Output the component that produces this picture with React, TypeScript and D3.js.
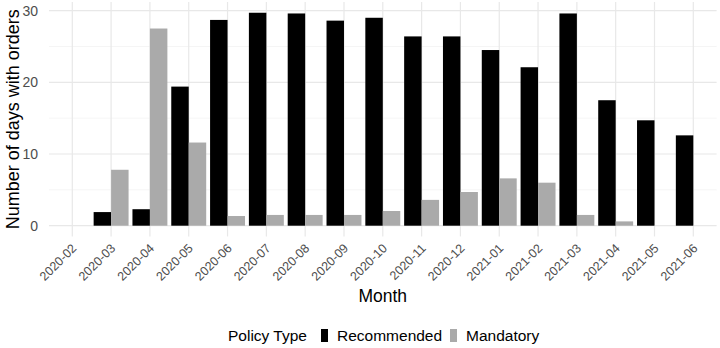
import React from "react";
import * as d3 from "d3";

const months = [
  "2020-02", "2020-03", "2020-04", "2020-05", "2020-06", "2020-07",
  "2020-08", "2020-09", "2020-10", "2020-11", "2020-12", "2021-01",
  "2021-02", "2021-03", "2021-04", "2021-05", "2021-06",
];
const recommended = [
  0, 1.9, 2.3, 19.4, 28.7, 29.7, 29.6, 28.6, 29.0, 26.4, 26.4, 24.5,
  22.1, 29.6, 17.5, 14.7, 12.6,
];
const mandatory = [
  0, 7.8, 27.5, 11.6, 1.35, 1.5, 1.5, 1.5, 2.05, 3.6, 4.7, 6.6,
  6.0, 1.5, 0.6, 0, 0,
];
const policyTypes = ["Recommended", "Mandatory"];
const yTicks = [0, 10, 20, 30];
const yMinor = [5, 15, 25];

const width = 720;
const height = 348;
const font = "'Liberation Sans', Arial, sans-serif";
const colors: Record<string, string> = { Recommended: "#000000", Mandatory: "#aaaaaa" };

const App = () => {
  const rows = months.map((m, i) => ({
    month: m,
    Recommended: recommended[i],
    Mandatory: mandatory[i],
  }));

  const panelLeft = 49;
  const panelRight = 716.6;

  const x = d3
    .scaleBand()
    .domain(months)
    .range([panelLeft, panelRight])
    .paddingInner(0.1)
    .paddingOuter(0.15);

  const xSub = d3.scaleBand().domain(policyTypes).range([0, x.bandwidth()]);

  const y = d3.scaleLinear().domain([0, 30]).range([225.7, 10.6]);
  const panelTop = y(31.2);
  const panelBottom = y(-1.5);

  const tickX = (m: string) => (x(m) ?? 0) + x.bandwidth() / 2;

  return (
    <div style={{ position: "fixed", left: 0, top: 0 }}>
      <svg width={width} height={height} style={{ display: "block", background: "#fff" }}>
        {/* grid */}
        {yMinor.map((t) => (
          <line key={"mn" + t} x1={panelLeft} x2={panelRight} y1={y(t)} y2={y(t)}
            stroke="#f2f2f2" strokeWidth={0.8} />
        ))}
        {yTicks.map((t) => (
          <line key={"mj" + t} x1={panelLeft} x2={panelRight} y1={y(t)} y2={y(t)}
            stroke="#e8e8e8" strokeWidth={1.2} />
        ))}
        {months.map((m) => (
          <line key={"vg" + m} x1={tickX(m)} x2={tickX(m)} y1={panelTop} y2={panelBottom}
            stroke="#e8e8e8" strokeWidth={1.2} />
        ))}

        {/* bars */}
        {rows.map((r) =>
          policyTypes.map((p) => {
            const v = (r as any)[p] as number;
            return (
              <rect
                key={r.month + p}
                x={(x(r.month) ?? 0) + (xSub(p) ?? 0)}
                y={y(v)}
                width={xSub.bandwidth()}
                height={y(0) - y(v)}
                fill={colors[p]}
              />
            );
          })
        )}

        {/* y axis labels */}
        {yTicks.map((t) => (
          <text key={"yl" + t} x={38} y={y(t)} dy="0.35em" textAnchor="end"
            fontFamily={font} fontSize={14} fill="#4d4d4d">
            {t}
          </text>
        ))}
        <text
          transform={`translate(19,${(panelTop + panelBottom) / 2}) rotate(-90)`}
          textAnchor="middle"
          fontFamily={font}
          fontSize={18}
          fill="#000"
        >
          Number of days with orders
        </text>

        {/* x axis labels */}
        {months.map((m) => (
          <text
            key={"xl" + m}
            transform={`translate(${tickX(m) + 5},${249}) rotate(-45)`}
            textAnchor="end"
            fontFamily={font}
            fontSize={12.5}
            fill="#4d4d4d"
          >
            {m}
          </text>
        ))}
        <text x={(panelLeft + panelRight) / 2} y={302} textAnchor="middle"
          fontFamily={font} fontSize={17.5} fill="#000">
          Month
        </text>

        {/* legend */}
        <g fontFamily={font} fontSize={15.5} fill="#000">
          <text x={228} y={341}>Policy Type</text>
          <rect x={321} y={329} width={7} height={13} fill={colors.Recommended} />
          <text x={337} y={341}>Recommended</text>
          <rect x={450} y={329} width={7} height={13} fill={colors.Mandatory} />
          <text x={466} y={341}>Mandatory</text>
        </g>
      </svg>
    </div>
  );
};

export default App;
